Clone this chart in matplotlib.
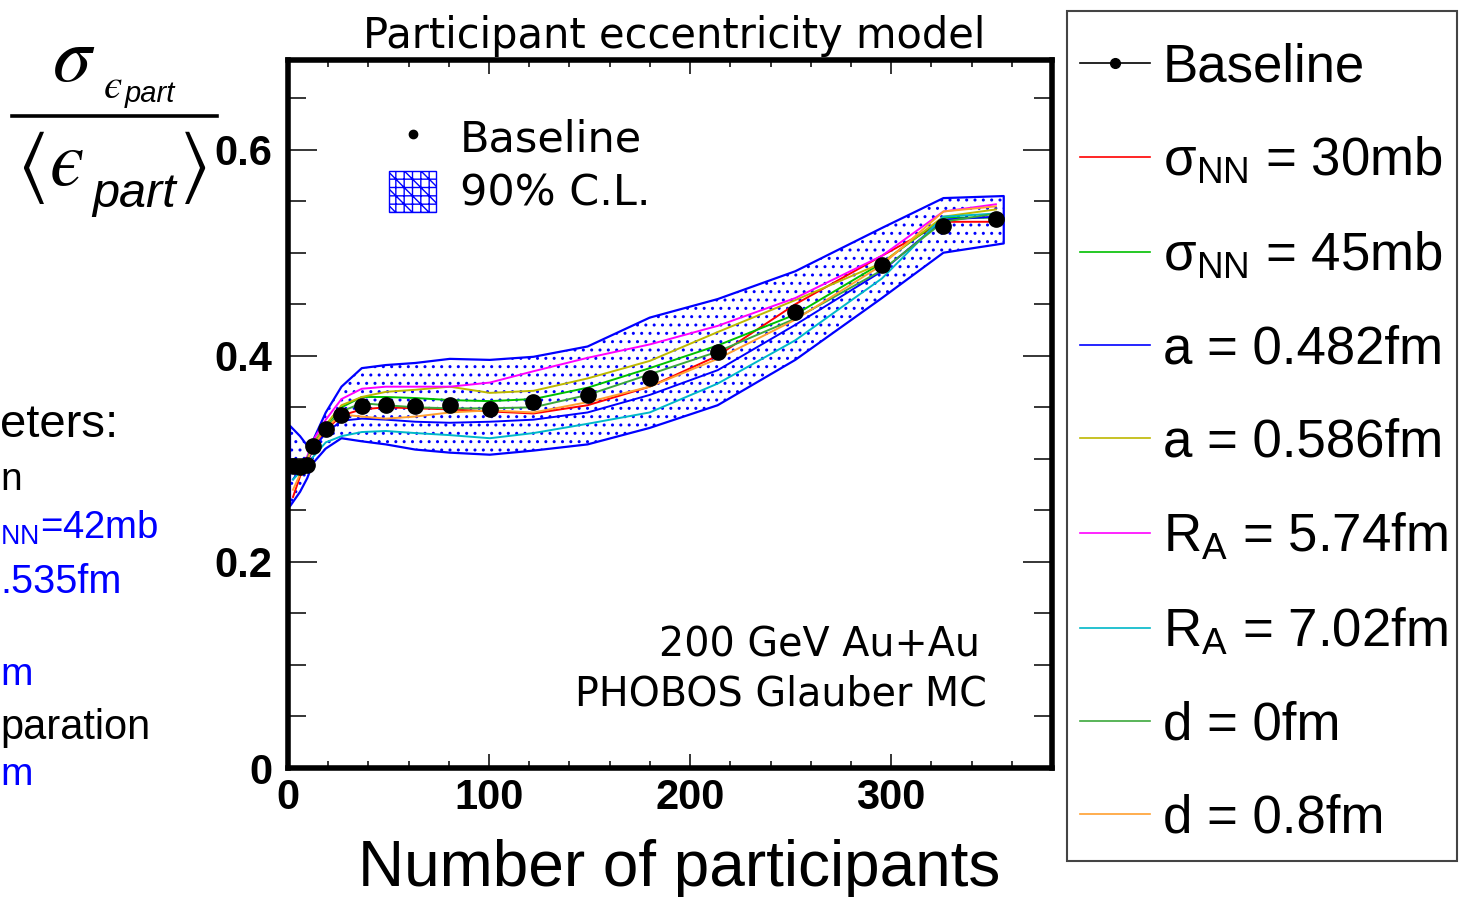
import matplotlib
matplotlib.use("Agg")
import matplotlib.pyplot as plt
from matplotlib import font_manager as fm
from matplotlib.lines import Line2D
from matplotlib.patches import Patch, Rectangle
from matplotlib.ticker import MultipleLocator

# ---------------- data ----------------
npart = [2.5, 6, 9.5, 12.5, 18.8, 26.6, 36.7, 48.7, 63.3, 80.5, 100.4, 122.1,
         149, 179.9, 213.7, 252.3, 295.4, 326, 352.1]
baseline = [0.293, 0.292, 0.294, 0.312, 0.329, 0.343, 0.351, 0.352, 0.351, 0.352,
            0.348, 0.355, 0.362, 0.378, 0.404, 0.442, 0.488, 0.526, 0.533]
band_x = [1.0, 6, 9.5, 12.5, 18.8, 26.6, 36.7, 48.7, 63.3, 80.5, 100.4, 122.1,
          149, 179.9, 213.7, 252.3, 295.4, 326, 356]
band_upper = [0.332, 0.322, 0.313, 0.318, 0.345, 0.370, 0.388, 0.391, 0.393, 0.397,
              0.396, 0.399, 0.409, 0.437, 0.455, 0.482, 0.524, 0.553, 0.555]
band_lower = [0.254, 0.268, 0.281, 0.296, 0.310, 0.320, 0.317, 0.314, 0.309, 0.306,
              0.304, 0.308, 0.314, 0.330, 0.352, 0.396, 0.456, 0.500, 0.509]

sigma30 = [0.263, 0.283, 0.296, 0.310, 0.328, 0.342, 0.348, 0.350, 0.349, 0.348,
           0.346, 0.344, 0.352, 0.370, 0.400, 0.450, 0.497, 0.530, 0.530]
sigma45 = [0.290, 0.294, 0.300, 0.315, 0.332, 0.350, 0.360, 0.360, 0.359, 0.357,
           0.356, 0.358, 0.369, 0.388, 0.410, 0.440, 0.490, 0.534, 0.534]
a0482 = [0.280, 0.290, 0.297, 0.310, 0.325, 0.337, 0.339, 0.338, 0.336, 0.335,
         0.336, 0.338, 0.345, 0.362, 0.386, 0.430, 0.482, 0.532, 0.535]
a0586 = [0.290, 0.295, 0.300, 0.315, 0.333, 0.352, 0.360, 0.365, 0.367, 0.370,
         0.364, 0.366, 0.378, 0.395, 0.423, 0.454, 0.490, 0.535, 0.542]
ra574 = [0.290, 0.295, 0.302, 0.318, 0.338, 0.358, 0.368, 0.370, 0.370, 0.370,
         0.374, 0.385, 0.398, 0.411, 0.429, 0.456, 0.497, 0.540, 0.547]
ra702 = [0.280, 0.287, 0.295, 0.302, 0.316, 0.322, 0.326, 0.327, 0.325, 0.323,
         0.320, 0.325, 0.334, 0.345, 0.373, 0.415, 0.475, 0.535, 0.538]
d0 = [0.290, 0.294, 0.300, 0.314, 0.330, 0.346, 0.354, 0.352, 0.350, 0.349,
      0.349, 0.350, 0.362, 0.382, 0.404, 0.436, 0.483, 0.530, 0.538]
d08 = [0.270, 0.285, 0.298, 0.312, 0.330, 0.343, 0.341, 0.339, 0.341, 0.345,
       0.347, 0.345, 0.355, 0.370, 0.397, 0.435, 0.488, 0.540, 0.545]

series = [sigma30, sigma45, a0482, a0586, ra574, ra702, d0, d08]
series_labels = [r'$\mathrm{σ}_{\mathrm{NN}}$ = 30mb', r'$\mathrm{σ}_{\mathrm{NN}}$ = 45mb',
                 'a = 0.482fm', 'a = 0.586fm',
                 r'$\mathrm{R}_{\mathrm{A}}$ = 5.74fm', r'$\mathrm{R}_{\mathrm{A}}$ = 7.02fm',
                 'd = 0fm', 'd = 0.8fm']
series_colors = ['#ff0000', '#00c000', '#0000ff', '#bdb800', '#ff00ff', '#00b8c8',
                 '#3ca83c', '#ffa030']

xticks = [0, 100, 200, 300]
xticklabels = ['0', '100', '200', '300']
yticks = [0, 0.2, 0.4, 0.6]
yticklabels = ['0', '0.2', '0.4', '0.6']

# visible fragments of slide text at the left edge: (text, y centre px, colour, size)
left_lines = [
    ('eters:', 425, 'black', 34),
    ('n', 480, 'black', 28),
    (r'$_{\mathrm{NN}}$=42mb', 528, '#0000ff', 27.5),
    ('.535fm', 582, '#0000ff', 28.5),
    ('m', 675, '#0000ff', 28),
    ('paration', 728, 'black', 30),
    ('m', 775, '#0000ff', 28),
]

# ---------------- fonts ----------------
plt.rcParams['mathtext.fontset'] = 'custom'
plt.rcParams['mathtext.rm'] = 'Liberation Sans'
plt.rcParams['mathtext.it'] = 'Liberation Sans:italic'
plt.rcParams['mathtext.bf'] = 'Liberation Sans:bold'
plt.rcParams['font.family'] = ['Liberation Sans', 'DejaVu Sans']


def rootfont(size):
    return fm.FontProperties(size=size, family='DejaVu Sans')


W, H = 1467, 897
fig = plt.figure(figsize=(W / 100, H / 100), dpi=100)


def fx(px):
    return px / W


def fy(py):
    return 1 - py / H


ax = fig.add_axes([fx(288), fy(768), (1052 - 288) / W, (768 - 60) / H])
ax.set_xlim(0, 380)
ax.set_ylim(0, 0.687)

ax.fill_between(band_x, band_lower, band_upper, facecolor='white', edgecolor='#0000ff',
                hatch='..', linewidth=1.6, zorder=1)
for vals, col in zip(series, series_colors):
    ax.plot(npart, vals, color=col, lw=1.4, zorder=2)
ax.plot(npart, baseline, ls='none', marker='o', ms=11, color='black', zorder=3)

for s in ax.spines.values():
    s.set_linewidth(4)
ax.set_xticks(xticks)
ax.set_xticklabels(xticklabels)
ax.set_yticks(yticks)
ax.set_yticklabels(yticklabels)
ax.xaxis.set_minor_locator(MultipleLocator(20))
ax.yaxis.set_minor_locator(MultipleLocator(0.05))
ax.tick_params(axis='x', which='major', direction='in', top=True, length=10, width=1.1, pad=7)
ax.tick_params(axis='x', which='minor', direction='in', top=True, length=5, width=1.1)
ax.tick_params(axis='y', which='major', direction='in', right=True, length=21, width=1.1, pad=11)
ax.tick_params(axis='y', which='minor', direction='in', right=True, length=13, width=1.1)
for lab in ax.get_xticklabels() + ax.get_yticklabels():
    lab.set_fontfamily('Liberation Sans')
    lab.set_fontweight('bold')
    lab.set_fontsize(30)

# inner legend
h_base = Line2D([], [], ls='none', marker='o', ms=6, color='black')
h_cl = Patch(facecolor='white', edgecolor='#0000ff', hatch='++\\\\', lw=1)
ax.legend([h_base, h_cl], ['Baseline', '90% C.L.'], loc='upper left',
          bbox_to_anchor=(fx(389), fy(116)), bbox_transform=fig.transFigure,
          frameon=False, prop=rootfont(31), handlelength=1.1, handleheight=1.1,
          handletextpad=0.55, labelspacing=0.24, borderpad=0, borderaxespad=0)

# annotations
fig.text(fx(674), fy(48), 'Participant eccentricity model', ha='center', va='baseline',
         fontproperties=rootfont(30))
fig.text(fx(980), fy(656), '200 GeV Au+Au', ha='right', va='baseline',
         fontproperties=rootfont(28.5))
fig.text(fx(987), fy(705), 'PHOBOS Glauber MC', ha='right', va='baseline',
         fontproperties=rootfont(28.5))

fig.text(fx(679), fy(886), 'Number of participants', ha='center', va='baseline',
         fontsize=46, family='Liberation Sans')

# y-axis label as a fraction
fig.text(fx(74), fy(60), r'$\sigma$', math_fontfamily='stix', fontsize=56,
         ha='center', va='center')
fig.text(fx(113), fy(87), r'$ϵ$', math_fontfamily='stix', fontsize=30,
         ha='center', va='center')
fig.text(fx(125), fy(102), 'part', family='Liberation Sans', style='italic',
         fontsize=21, ha='left', va='baseline')
fig.add_artist(Line2D([fx(12), fx(217)], [fy(116), fy(116)], color='black', lw=2.6))
fig.text(fx(31), fy(168), r'$\langle$', math_fontfamily='stix', fontsize=56,
         ha='center', va='center')
fig.text(fx(66), fy(165), r'$ϵ$', math_fontfamily='stix', fontsize=56,
         ha='center', va='center')
fig.text(fx(92), fy(207), 'part', family='Liberation Sans', style='italic',
         fontsize=35, ha='left', va='baseline')
fig.text(fx(193), fy(168), r'$\rangle$', math_fontfamily='stix', fontsize=56,
         ha='center', va='center')

for txt, yc, col, size in left_lines:
    fig.text(fx(0), fy(yc), txt, ha='left', va='center', color=col,
             fontsize=size, family='Liberation Sans')

# right legend
frame = Rectangle((fx(1067), fy(861)), fx(1457) - fx(1067), fy(11) - fy(861),
                  transform=fig.transFigure, fill=False, edgecolor='#444444', lw=1.5)
fig.add_artist(frame)
handles = [Line2D([], [], color='black', lw=1.2, marker='o', ms=7)]
handles += [Line2D([], [], color=c, lw=1.2) for c in series_colors]
fig.legend(handles, ['Baseline'] + series_labels, loc='upper left',
           bbox_to_anchor=(fx(1080), fy(42)), bbox_transform=fig.transFigure,
           frameon=False, prop=fm.FontProperties(family='Liberation Sans', size=38),
           handlelength=1.32, handletextpad=0.25, labelspacing=0.82,
           borderpad=0, borderaxespad=0)

fig.savefig('out.png', dpi=100, facecolor='white')
